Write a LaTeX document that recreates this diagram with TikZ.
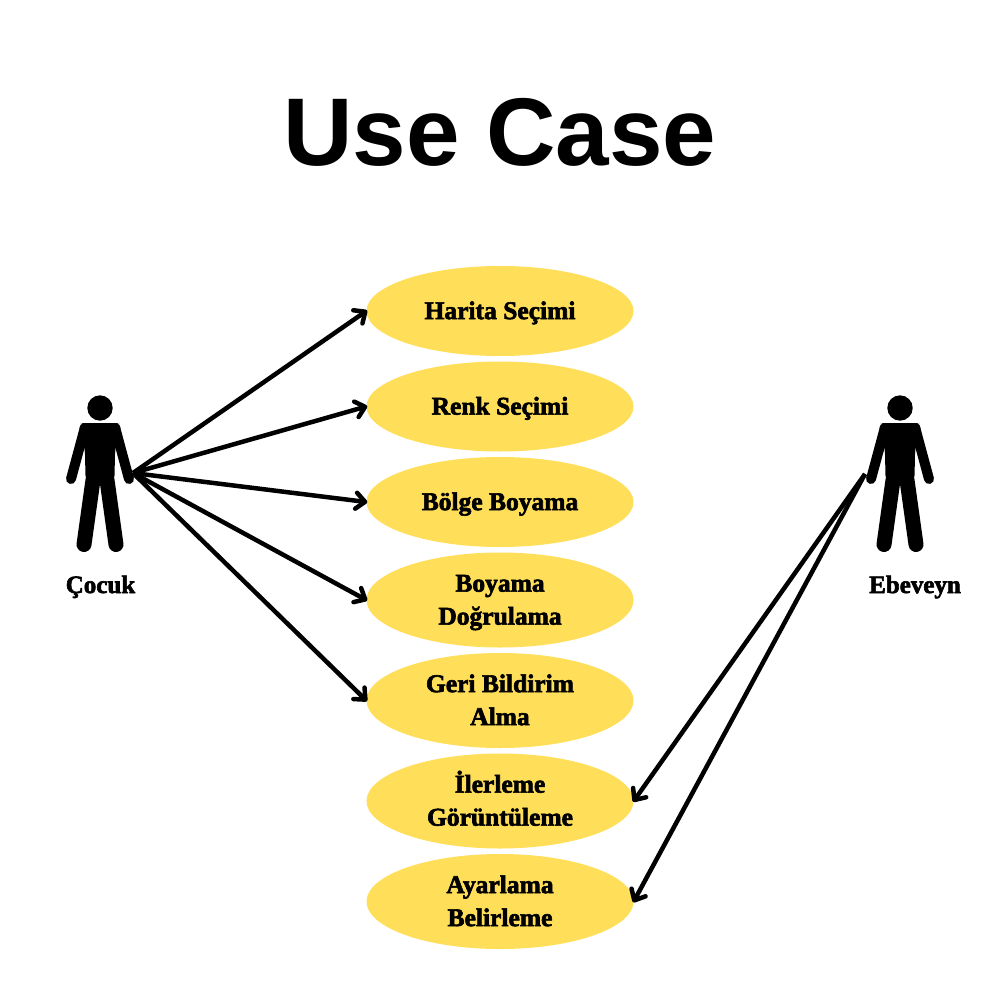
\documentclass[tikz,border=0pt]{standalone}
\usepackage{fontspec}
\setmainfont{Liberation Serif}
\newfontfamily\titlefont{Liberation Sans}[BoldFont={Liberation Sans Bold}]
\newfontfamily\fatfont{Liberation Serif Bold}[FakeBold=2.4]
\usetikzlibrary{shapes.geometric,arrows.meta}
\definecolor{usecasefill}{HTML}{FFDE59}
\newcommand\lineph{\vphantom{İg}}
\tikzset{
  usecase/.style={ellipse,fill=usecasefill,minimum width=267pt,minimum height=#1,inner sep=0pt,align=center,
    font=\fatfont\fontsize{25.5}{33}\selectfont},
  usecase/.default=95pt,
  actorlabel/.style={font=\fatfont\fontsize{25}{30}\selectfont,inner sep=0pt,anchor=base},
  link/.style={line width=4.5pt,shorten >=-1pt,-{Straight Barb[length=9pt,width=16pt,line width=4.5pt,round]}},
  pics/actor/.style={code={
    \fill (0,-65) circle (12.7);
    \fill[rounded corners=7pt] (-13,-50) -- (-22,-50) -- (-15,-24) -- (-14.5,9) -- (14.5,9) -- (15,-24) -- (22,-50) -- (13,-50) -- cycle;
    \draw[line width=10pt,line cap=round] (-15.5,-44) -- (-29,6);
    \draw[line width=10pt,line cap=round] (15.5,-44) -- (29,6);
    \draw[line width=15pt,line cap=round] (-7,7) -- (-16,71.5);
    \draw[line width=15pt,line cap=round] (7,7) -- (16,71.5);
  }}
}
\begin{document}
\begin{tikzpicture}[x=1pt,y=-1pt]
\useasboundingbox (0,0) rectangle (1000,1000);
\fill[white] (0,0) rectangle (1000,1000);
\node[font=\titlefont\bfseries\fontsize{96.2}{96}\selectfont,inner sep=0pt] (title) at (500,132) {Use Case};
\pic at (100,473) {actor};
\pic at (900,473) {actor};
\coordinate (chand) at (133,473);
\coordinate (phand) at (865,474);
\node[actorlabel] (cocuk) at (100.5,593) {Çocuk};
\node[actorlabel] (ebeveyn) at (915,593) {Ebeveyn};
\node[usecase=90pt] (e1) at (500,311) {\lineph Harita Seçimi};
\node[usecase=90pt] (e2) at (500,406.5) {\lineph Renk Seçimi};
\node[usecase=90pt] (e3) at (500,502) {\lineph Bölge Boyama};
\node[usecase] (e4) at (500,600) {\lineph Boyama\\\lineph Doğrulama};
\node[usecase] (e5) at (500,700.5) {\lineph Geri Bildirim\\\lineph Alma};
\node[usecase] (e6) at (500,801) {\lineph İlerleme\\\lineph Görüntüleme};
\node[usecase] (e7) at (500,901.5) {\lineph Ayarlama\\\lineph Belirleme};
\foreach \t in {e1,e2,e3,e4,e5} \draw[link] (chand) -- (\t.west);
\foreach \t in {e6,e7} \draw[link] (phand) -- (\t.east);
\end{tikzpicture}
\end{document}
